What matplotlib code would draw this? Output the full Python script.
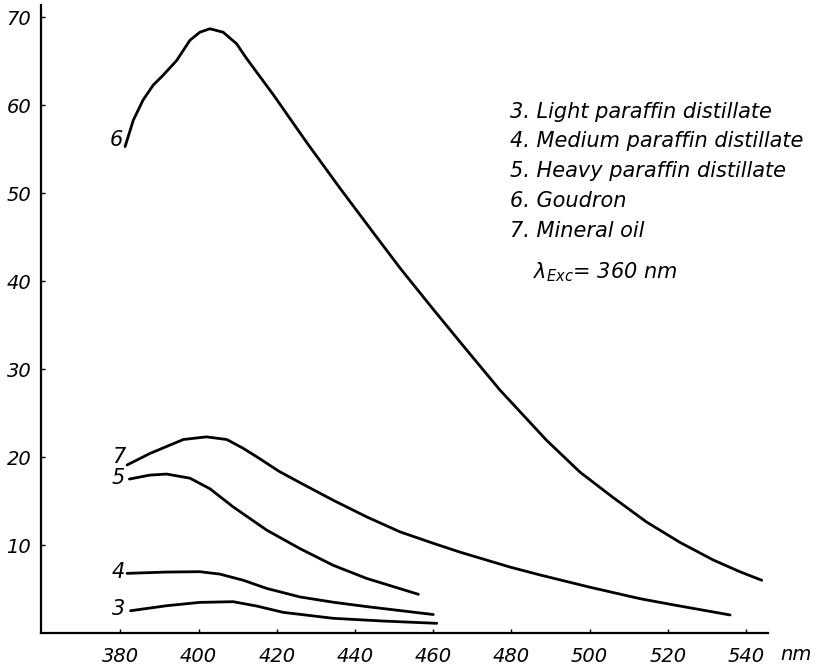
import matplotlib
matplotlib.use("Agg")
import matplotlib.pyplot as plt

# ---- data ----
x6 = [381.2, 383.3, 385.8, 388.4, 390.9, 394.4, 397.8, 400.3, 402.9, 406.3, 409.7,
      412.3, 419.1, 427.6, 436.1, 444.7, 451.5, 460.0, 468.5, 477.1, 489.0, 497.5,
      506.0, 514.6, 523.1, 531.6, 538.5, 544.0]
y6 = [55.3, 58.3, 60.6, 62.3, 63.4, 65.1, 67.4, 68.3, 68.7, 68.3, 67.0,
      65.3, 61.2, 55.8, 50.6, 45.5, 41.5, 36.8, 32.2, 27.6, 21.9, 18.3,
      15.4, 12.6, 10.3, 8.3, 6.95, 6.0]

x7 = [381.7, 387.5, 396.1, 402.0, 407.2, 411.4, 415.7, 420.5, 425.9, 434.4, 443.0, 451.5,
      460.0, 466.8, 479.6, 487.3, 500.1, 512.9, 521.4, 535.9]
y7 = [19.1, 20.4, 22.0, 22.3, 22.0, 21.0, 19.8, 18.4, 17.1, 15.1, 13.2, 11.5,
      10.2, 9.2, 7.5, 6.6, 5.2, 3.9, 3.2, 2.05]

x5 = [382.3, 387.5, 391.8, 397.8, 402.9, 408.8, 417.4, 425.9, 434.4, 443.0, 456.2]
y5 = [17.5, 17.95, 18.07, 17.6, 16.4, 14.35, 11.7, 9.6, 7.7, 6.2, 4.4]

x4 = [381.7, 391.8, 400.3, 405.4, 411.4, 417.4, 425.9, 434.4, 443.0, 460.0]
y4 = [6.78, 6.93, 6.97, 6.7, 6.0, 5.07, 4.1, 3.5, 3.0, 2.1]

x3 = [382.6, 391.8, 400.3, 408.8, 414.8, 421.6, 434.4, 447.2, 460.9]
y3 = [2.53, 3.1, 3.48, 3.56, 3.07, 2.35, 1.67, 1.36, 1.1]

curve_ids = ["3", "4", "5", "6", "7"]
legend_lines = ["3. Light paraffin distillate",
                "4. Medium paraffin distillate",
                "5. Heavy paraffin distillate",
                "6. Goudron",
                "7. Mineral oil"]
xticks = [380, 400, 420, 440, 460, 480, 500, 520, 540]
yticks = [10, 20, 30, 40, 50, 60, 70]

# ---- figure ----
W, H = 816, 671
plt.rcParams['font.family'] = ['DejaVu Sans']
plt.rcParams['mathtext.fontset'] = 'custom'
plt.rcParams['mathtext.rm'] = 'DejaVu Sans:italic'
plt.rcParams['mathtext.it'] = 'DejaVu Sans:italic'

fig = plt.figure(figsize=(W / 100, H / 100), dpi=100)
ax = fig.add_axes([41 / W, 1 - 633 / H, (768 - 41) / W, (633 - 5) / H])
ax.set_xlim(359.7, 545.6)
ax.set_ylim(0, 71.4)

for s in ["top", "right"]:
    ax.spines[s].set_visible(False)
for s in ["left", "bottom"]:
    ax.spines[s].set_linewidth(1.6)
    ax.spines[s].set_color("black")

lw = 2.0
data = {"3": (x3, y3), "4": (x4, y4), "5": (x5, y5), "6": (x6, y6), "7": (x7, y7)}
for cid in curve_ids:
    xs, ys = data[cid]
    ax.plot(xs, ys, color="black", lw=lw, solid_joinstyle="round", solid_capstyle="round")

# curve labels
lab_font = dict(fontsize=15, style="italic", ha="right", va="center", color="black")
ax.text(380.6, 56.0, "6", **lab_font)
ax.text(381.2, 20.0, "7", **lab_font)
ax.text(381.2, 17.6, "5", **lab_font)
ax.text(381.2, 6.9, "4", **lab_font)
ax.text(381.2, 2.7, "3", **lab_font)

ax.set_xticks(xticks)
ax.set_yticks(yticks)
ax.set_xticklabels([str(t) for t in xticks], fontsize=14, style="italic")
ax.set_yticklabels([str(t) for t in yticks], fontsize=14, style="italic")
ax.tick_params(axis="x", direction="in", length=3, width=1, pad=10)
ax.tick_params(axis="y", direction="in", length=3, width=1, pad=7)

fig.text(780 / W, 1 - 655 / H, "nm", fontsize=14, style="italic", ha="left", va="center")

# legend block
ys_px = [112, 141, 171, 201, 231]
for line, yp in zip(legend_lines, ys_px):
    fig.text(510 / W, 1 - yp / H, line, fontsize=15, style="italic", ha="left", va="center")
fig.text(533 / W, 1 - 272 / H, r"$\lambda_{Exc}$= 360 nm", fontsize=15, style="italic",
         ha="left", va="center")

fig.savefig("out.png", dpi=100, facecolor="white")
